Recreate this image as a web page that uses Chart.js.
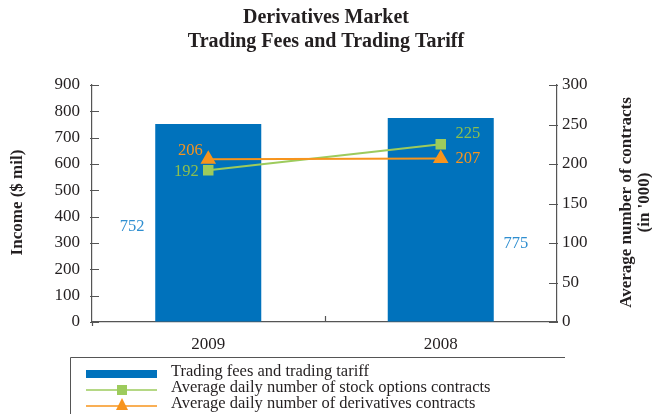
<!DOCTYPE html>
<html>
<head>
<meta charset="utf-8">
<script src="https://cdn.jsdelivr.net/npm/chart.js@4.4.1/dist/chart.umd.min.js"></script>
<style>
html,body{margin:0;padding:0;background:#fff;}
#wrap{width:652px;height:414px;position:relative;}
</style>
</head>
<body>
<div id="wrap"><canvas id="c" width="652" height="414"></canvas></div>
<script>
const categories = ["2009", "2008"];
const tradingFees = [752, 775];
const stockOptions = [192, 225];
const derivatives = [206, 207];
const leftTicks = [0, 100, 200, 300, 400, 500, 600, 700, 800, 900];
const rightTicks = [0, 50, 100, 150, 200, 250, 300];

const BLUE = '#0072BC';
const BLUE_TXT = '#2E8ED0';
const GREEN = '#9DCB5C';
const GREEN_TXT = '#8CBF4E';
const ORANGE = '#F7941D';
const TXT = '#231F20';
const AXIS = '#555';
const SERIF = '"Liberation Serif", "DejaVu Serif", serif';

const titleLegendPlugin = {
  id: 'titleLegend',
  afterDraw(chart) {
    const ctx = chart.ctx;
    const x = chart.scales.x, y = chart.scales.y, y1 = chart.scales.y1;
    const ca = chart.chartArea;
    ctx.save();
    // Title
    ctx.fillStyle = TXT;
    ctx.font = 'bold 20px ' + SERIF;
    ctx.textAlign = 'center';
    ctx.textBaseline = 'middle';
    ctx.fillText('Derivatives Market', 326, 18);
    ctx.fillText('Trading Fees and Trading Tariff', 326, 42);

    // Axis titles
    ctx.font = 'bold 17px ' + SERIF;
    ctx.save();
    ctx.translate(18, (ca.top + ca.bottom) / 2 - 1);
    ctx.rotate(-Math.PI / 2);
    ctx.fillText('Income ($ mil)', 0, 0);
    ctx.restore();
    ctx.save();
    ctx.translate(627, (ca.top + ca.bottom) / 2 - 1);
    ctx.rotate(-Math.PI / 2);
    ctx.fillText('Average number of contracts', 0, 0);
    ctx.fillText("(in '000)", 0, 18);
    ctx.restore();

    // Inward tick marks on value axes
    ctx.strokeStyle = AXIS;
    ctx.lineWidth = 1;
    leftTicks.forEach(v => {
      const py = Math.round(y.getPixelForValue(v)) + 0.5;
      ctx.beginPath(); ctx.moveTo(ca.left - 2, py); ctx.lineTo(ca.left + 7, py); ctx.stroke();
    });
    rightTicks.forEach(v => {
      const py = Math.round(y1.getPixelForValue(v)) + 0.5;
      ctx.beginPath(); ctx.moveTo(ca.right - 8, py); ctx.lineTo(ca.right + 1, py); ctx.stroke();
    });
    // x axis ticks: middle (up) and left corner (down)
    const mid = (x.getPixelForValue(0) + x.getPixelForValue(1)) / 2;
    ctx.lineWidth = 1.2;
    ctx.beginPath();
    ctx.moveTo(Math.round(mid) + 0.5, ca.bottom);
    ctx.lineTo(Math.round(mid) + 0.5, ca.bottom - 6);
    ctx.moveTo(ca.left + 0.5, ca.bottom);
    ctx.lineTo(ca.left + 0.5, ca.bottom + 4);
    ctx.stroke();

    // Bar value labels
    const barMeta = chart.getDatasetMeta(0);
    ctx.font = '16.5px ' + SERIF;
    ctx.fillStyle = BLUE_TXT;
    ctx.textBaseline = 'middle';
    const b0 = barMeta.data[0], b1 = barMeta.data[1];
    ctx.textAlign = 'center';
    ctx.fillText(String(tradingFees[0]), b0.x - b0.width / 2 - 23, (b0.y + b0.base) / 2 + 4);
    ctx.fillText(String(tradingFees[1]), b1.x + b1.width / 2 + 22, b1.y + (b1.base - b1.y) * 0.62);

    // Line labels
    const gMeta = chart.getDatasetMeta(1).data;
    const oMeta = chart.getDatasetMeta(2).data;
    ctx.fillStyle = GREEN_TXT;
    ctx.textAlign = 'center';
    ctx.fillText(String(stockOptions[0]), gMeta[0].x - 22, gMeta[0].y + 1);
    ctx.fillText(String(stockOptions[1]), gMeta[1].x + 27, gMeta[1].y - 11);
    ctx.fillStyle = ORANGE;
    ctx.fillText(String(derivatives[0]), oMeta[0].x - 18, oMeta[0].y - 9);
    ctx.fillText(String(derivatives[1]), oMeta[1].x + 27, oMeta[1].y);

    // Legend box
    ctx.strokeStyle = AXIS;
    ctx.lineWidth = 1;
    ctx.beginPath();
    ctx.moveTo(70.5, 420);
    ctx.lineTo(70.5, 357.5);
    ctx.lineTo(565, 357.5);
    ctx.stroke();

    const lx0 = 86, lx1 = 157, tx = 171;
    ctx.fillStyle = BLUE;
    ctx.fillRect(lx0, 370, lx1 - lx0, 8);
    ctx.strokeStyle = GREEN; ctx.lineWidth = 1.5;
    ctx.beginPath(); ctx.moveTo(lx0, 390); ctx.lineTo(lx1, 390); ctx.stroke();
    ctx.fillStyle = GREEN;
    ctx.fillRect(117, 385, 10, 10);
    ctx.strokeStyle = ORANGE;
    ctx.beginPath(); ctx.moveTo(lx0, 406); ctx.lineTo(lx1, 406); ctx.stroke();
    ctx.fillStyle = ORANGE;
    ctx.beginPath(); ctx.moveTo(122, 398); ctx.lineTo(128, 410); ctx.lineTo(116, 410); ctx.closePath(); ctx.fill();

    ctx.fillStyle = TXT;
    ctx.font = '16.5px ' + SERIF;
    ctx.textAlign = 'left';
    ctx.textBaseline = 'middle';
    ctx.fillText('Trading fees and trading tariff', tx, 372);
    ctx.fillText('Average daily number of stock options contracts', tx, 388);
    ctx.fillText('Average daily number of derivatives contracts', tx, 404);
    ctx.restore();
  }
};

new Chart(document.getElementById('c'), {
  data: {
    labels: categories,
    datasets: [
      {
        type: 'bar', label: 'Trading fees and trading tariff', data: tradingFees,
        backgroundColor: BLUE, yAxisID: 'y', order: 3,
        categoryPercentage: 1, barPercentage: 0.456
      },
      {
        type: 'line', label: 'Average daily number of stock options contracts', data: stockOptions,
        borderColor: GREEN, backgroundColor: GREEN, borderWidth: 2,
        pointStyle: 'rect', pointRadius: 6, pointHoverRadius: 6, yAxisID: 'y1', order: 2
      },
      {
        type: 'line', label: 'Average daily number of derivatives contracts', data: derivatives,
        borderColor: ORANGE, backgroundColor: ORANGE, borderWidth: 2,
        pointStyle: 'triangle', pointRadius: 7, pointHoverRadius: 7, yAxisID: 'y1', order: 1
      }
    ]
  },
  options: {
    responsive: false,
    animation: false,
    events: [],
    layout: { padding: { top: 85, left: 0, right: 0, bottom: 0 } },
    plugins: { legend: { display: false }, title: { display: false }, tooltip: { enabled: false } },
    scales: {
      x: {
        offset: true,
        grid: { display: false },
        border: { display: true, color: AXIS, width: 1.2 },
        ticks: { color: TXT, font: { family: SERIF, size: 17 }, padding: 4 },
        afterFit(s) { s.height = 92; }
      },
      y: {
        position: 'left', min: 0, max: 900,
        afterBuildTicks(s) { s.ticks = leftTicks.map(v => ({ value: v })); },
        grid: { drawOnChartArea: false, drawTicks: false },
        border: { display: true, color: AXIS, width: 1.2 },
        ticks: { color: TXT, font: { family: SERIF, size: 17 }, padding: 12 },
        afterFit(s) { s.width = 92; }
      },
      y1: {
        position: 'right', min: 0, max: 300,
        afterBuildTicks(s) { s.ticks = rightTicks.map(v => ({ value: v })); },
        grid: { drawOnChartArea: false, drawTicks: false },
        border: { display: true, color: AXIS, width: 1.2 },
        ticks: { color: TXT, font: { family: SERIF, size: 17 }, padding: 5 },
        afterFit(s) { s.width = 95; }
      }
    }
  },
  plugins: [titleLegendPlugin]
});
</script>
</body>
</html>
